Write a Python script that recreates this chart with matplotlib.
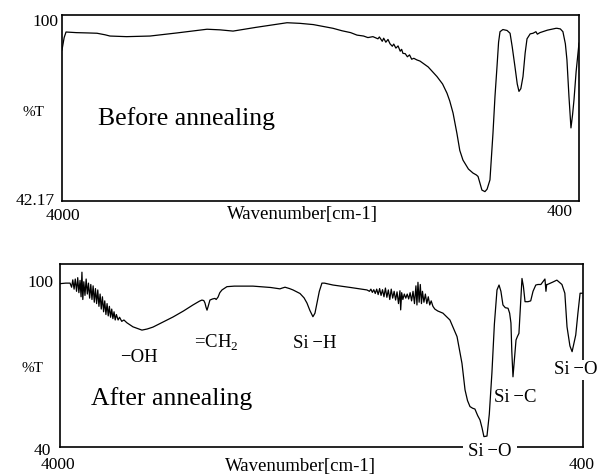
import matplotlib.pyplot as plt
import numpy as np

plt.rcParams['font.family'] = ['Liberation Serif', 'DejaVu Serif']
plt.rcParams['mathtext.fontset'] = 'custom'
plt.rcParams['mathtext.rm'] = 'Liberation Serif'

# spectrum before annealing: (wavenumber, %T)
before = [
    (4000, 91.0), (3985, 95.0), (3972, 96.8), (3900, 96.6), (3820, 96.5), (3756, 96.4),
    (3700, 95.9), (3666, 95.5), (3550, 95.3), (3387, 95.5), (3200, 96.5), (2990, 97.7),
    (2900, 97.5), (2809, 97.1), (2650, 98.3), (2433, 99.8), (2343, 99.6), (2250, 99.2),
    (2113, 98.0), (2050, 97.2), (1990, 96.6), (1946, 95.8), (1900, 95.5), (1870, 95.0),
    (1835, 95.3), (1800, 94.6), (1790, 95.2), (1770, 93.8), (1760, 94.8), (1745, 93.5),
    (1730, 94.4), (1716, 93.0), (1700, 92.2), (1690, 92.9), (1675, 91.6), (1660, 92.3),
    (1645, 90.6), (1635, 91.2), (1626, 89.9), (1610, 89.8), (1595, 88.8), (1580, 89.4),
    (1565, 88.0), (1550, 88.3), (1530, 87.8), (1507, 87.4), (1450, 85.5), (1389, 82.4),
    (1350, 80.0), (1319, 77.0), (1300, 74.5), (1277, 70.6), (1250, 64.0), (1230, 58.5),
    (1208, 55.4), (1170, 52.5), (1138, 51.2), (1115, 50.6), (1103, 50.1), (1090, 48.0),
    (1076, 45.7), (1055, 45.2), (1040, 46.0), (1020, 49.0), (999, 64.1), (985, 76.0),
    (971, 85.6), (960, 93.5), (950, 96.9), (930, 97.6), (901, 97.3), (880, 96.4),
    (865, 92.0), (846, 85.6), (830, 80.0), (818, 77.6), (805, 78.5), (790, 82.4),
    (775, 90.0), (762, 94.6), (740, 96.2), (720, 96.4), (700, 96.9), (690, 96.1),
    (672, 96.6), (620, 97.4), (560, 98.0), (553, 98.0), (530, 97.8), (512, 96.9),
    (495, 93.0), (484, 87.8), (470, 76.0), (456, 65.8), (445, 70.0), (435, 74.8),
    (420, 84.0), (400, 93.2),
]

# spectrum after annealing: (wavenumber, %T)
after = [
    # OH region with noise
    (4000, 99.8), (3960, 100.0), (3931, 100.0), (3920, 98.5), (3912, 101.2), (3903, 97.8),
    (3895, 101.5), (3886, 97.0), (3878, 102.0), (3870, 96.5), (3862, 101.0), (3855, 95.0),
    (3849, 104.0), (3843, 94.0), (3836, 100.5), (3828, 95.5), (3820, 101.5), (3812, 96.0),
    (3804, 100.0), (3796, 94.5), (3788, 99.5), (3780, 94.0), (3772, 99.0), (3764, 93.0),
    (3756, 98.0), (3748, 92.5), (3740, 97.5), (3732, 91.5), (3724, 96.0), (3716, 90.5),
    (3708, 95.0), (3700, 89.5), (3692, 93.5), (3684, 88.5), (3676, 92.5), (3668, 88.0),
    (3660, 91.5), (3652, 87.5), (3644, 90.5), (3636, 87.0), (3628, 89.5), (3620, 86.5),
    (3612, 88.5), (3600, 86.5), (3590, 87.5), (3575, 86.0), (3560, 86.5), (3540, 85.5),
    (3498, 84.0), (3436, 82.8), (3400, 83.2), (3360, 83.9), (3300, 85.5), (3222, 87.6),
    (3150, 89.8), (3085, 92.0), (3040, 93.4), (3023, 93.8),
    # CH2
    (3010, 93.6), (3002, 92.7), (2995, 91.2), (2988, 90.1), (2980, 91.5), (2968, 93.8),
    (2950, 94.2), (2933, 94.4), (2925, 94.0), (2912, 94.9), (2900, 96.5), (2885, 97.5),
    (2851, 98.7), (2800, 98.9), (2672, 98.9), (2550, 98.4), (2486, 97.9), (2470, 98.2),
    (2451, 98.5), (2420, 98.0), (2396, 97.5),
    # Si-H
    (2348, 96.2), (2320, 94.6), (2300, 92.7), (2280, 90.0), (2259, 87.7), (2245, 89.0),
    (2231, 92.7), (2215, 97.0), (2197, 100.0), (2180, 100.0), (2121, 99.3), (2000, 98.4),
    # noisy plateau
    (1887, 97.5), (1870, 97.0), (1860, 97.8), (1850, 96.6), (1840, 97.6), (1830, 96.2),
    (1820, 97.8), (1810, 95.8), (1800, 98.0), (1790, 95.5), (1780, 97.6), (1770, 95.0),
    (1760, 98.2), (1750, 94.8), (1740, 97.5), (1730, 94.0), (1720, 97.8), (1710, 94.5),
    (1700, 97.0), (1690, 93.8), (1680, 96.8), (1670, 92.5), (1660, 97.2), (1655, 90.2),
    (1648, 96.5), (1640, 94.0), (1630, 96.0), (1620, 94.5), (1610, 96.0), (1600, 94.2),
    (1590, 96.5), (1580, 93.5), (1570, 97.0), (1560, 92.5), (1550, 99.0), (1543, 92.0),
    (1536, 100.3), (1528, 93.0), (1520, 99.5), (1512, 92.5), (1505, 97.0), (1495, 93.0),
    (1485, 96.0), (1475, 92.5), (1465, 95.0), (1455, 92.0), (1445, 93.5), (1433, 91.5),
    (1420, 90.5), (1400, 89.8), (1364, 89.0),
    # Si-O stretch
    (1316, 86.5), (1267, 80.4), (1233, 70.6), (1212, 60.9), (1195, 57.0), (1178, 54.8),
    (1160, 54.2), (1144, 53.9), (1125, 51.5), (1109, 49.9), (1095, 47.0), (1082, 43.8),
    (1061, 44.0), (1045, 52.0), (1027, 67.1), (1010, 85.0), (992, 97.5), (978, 99.3),
    (965, 97.0), (951, 92.0), (935, 91.0), (916, 90.8), (905, 89.0), (896, 85.4),
    # Si-C
    (890, 75.0), (882, 65.7), (872, 72.0), (861, 79.2), (851, 80.5), (841, 81.6),
    (830, 92.0), (820, 101.7), (810, 98.7), (799, 93.2), (779, 93.2), (760, 93.5),
    (744, 97.0), (725, 99.3), (710, 99.5), (690, 99.5), (662, 101.5), (655, 97.0),
    (650, 99.5), (645, 99.5), (607, 100.4), (580, 101.1), (545, 99.5), (525, 96.3),
    # Si-O bend
    (510, 84.0), (490, 77.0), (475, 74.9), (462, 78.0), (450, 81.0), (435, 89.0),
    (420, 96.3), (400, 96.3),
]

wn_before, t_before = zip(*before)
wn_after, t_after = zip(*after)

W, H = 598, 475


def fx(x):
    return x / W


def fy(y):
    return 1 - y / H


fig = plt.figure(figsize=(W / 100, H / 100), dpi=100)
ax1 = fig.add_axes([fx(62), fy(201), 517 / W, 186 / H])
ax2 = fig.add_axes([fx(60), fy(447), 523 / W, 183 / H])

ax1.plot(wn_before, t_before, color='black', lw=0.9)
ax2.plot(wn_after, t_after, color='black', lw=0.9)
ax1.set_ylim(42.17, 102.3)
ax2.set_ylim(40, 107)

for ax in (ax1, ax2):
    ax.set_xlim(4000, 400)
    ax.set_xticks([])
    ax.set_yticks([])
    for s in ax.spines.values():
        s.set_linewidth(1.2)

fs = 12.5

# axis texts, top panel
fig.text(fx(45), fy(22), '100', fontsize=fs, ha='center', va='center')
fig.text(fx(33), fy(113), '%T', fontsize=11, ha='center', va='center')
fig.text(fx(35), fy(201), '42.17', fontsize=fs, ha='center', va='center')
fig.text(fx(63), fy(216), '4000', fontsize=fs, ha='center', va='center')
fig.text(fx(302), fy(214), 'Wavenumber[cm-1]', fontsize=13.5, ha='center', va='center')
fig.text(fx(560), fy(212), '400', fontsize=fs, ha='center', va='center')
fig.text(fx(186), fy(119), 'Before annealing', fontsize=18.5, ha='center', va='center')

# axis texts, bottom panel
fig.text(fx(40), fy(283), '100', fontsize=fs, ha='center', va='center')
fig.text(fx(32), fy(368), '%T', fontsize=11, ha='center', va='center')
fig.text(fx(42), fy(451), '40', fontsize=fs, ha='center', va='center')
fig.text(fx(58), fy(465), '4000', fontsize=fs, ha='center', va='center')
fig.text(fx(300), fy(466), 'Wavenumber[cm-1]', fontsize=13.5, ha='center', va='center')
fig.text(fx(582), fy(465), '400', fontsize=fs, ha='center', va='center')
fig.text(fx(172), fy(399), 'After annealing', fontsize=18.5, ha='center', va='center')

# band labels
bfs = 13.5
sp = '\u2009'
fig.text(fx(139), fy(357), '\u2212OH', fontsize=bfs, ha='center', va='center')
fig.text(fx(216), fy(343), '=CH$_2$', fontsize=bfs, ha='center', va='center')
fig.text(fx(315), fy(343), 'Si' + sp + '\u2212H', fontsize=bfs, ha='center', va='center')
fig.text(fx(515), fy(398), 'Si' + sp + '\u2212C', fontsize=bfs, ha='center', va='center')
fig.text(fx(490), fy(452), 'Si' + sp + '\u2212O', fontsize=bfs, ha='center', va='center',
         bbox=dict(facecolor='white', edgecolor='none', pad=4))
fig.text(fx(576), fy(370), 'Si' + sp + '\u2212O', fontsize=bfs, ha='center', va='center',
         bbox=dict(facecolor='white', edgecolor='none', pad=1))

fig.savefig('out.png', dpi=100)
